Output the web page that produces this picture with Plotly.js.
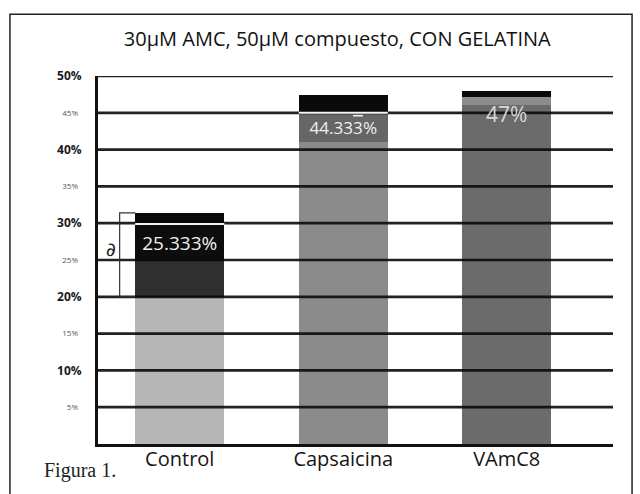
<!DOCTYPE html>
<html>
<head>
<meta charset="utf-8">
<script src="https://cdn.plot.ly/plotly-3.0.1.min.js"></script>
<style>html,body{margin:0;padding:0;background:#fff;}#chart{width:640px;height:494px;}</style>
</head>
<body>
<div id="chart"></div>
<script>
// ---- data ----
const categories = ['Control', 'Capsaicina', 'VAmC8'];
const baseSeg  = [20.0, 41.0, 46.0];   // lower segment
const midSeg   = [4.8, 4.0, 1.1];      // second segment
const blackSeg = [5.1, 0.0, 0.0];      // third segment (Control only)
const topSeg   = [1.5, 2.4, 0.9];      // black cap
const baseColors = ['#b6b6b6', '#8b8b8b', '#6b6b6b'];
const midColors  = ['#2f2f2f', '#666666', '#8c8c8c'];
const baseText  = ['', '', '47%'];
const midText   = ['', '44.33<span style="text-decoration:overline">3</span>%', ''];
const blackText = ['25.333%', '', ''];
const gapAbove  = [true, true, false];
const majorTicks = [10, 20, 30, 40, 50];
const majorLabels = ['10%', '20%', '30%', '40%', '50%'];
const minorTicks = [5, 15, 25, 35, 45];
const minorLabels = ['5%', '15%', '25%', '35%', '45%'];
const titleText = '30µM AMC, 50µM compuesto, CON GELATINA';
const figLabel = 'Figura 1.';
const bracketSymbol = '\u2202';

const barWidth = 0.545;
const font = 'Open Sans, sans-serif';

const traces = [
  {type: 'bar', x: categories, y: baseSeg, width: barWidth,
   marker: {color: baseColors}, hoverinfo: 'skip'},
  {type: 'bar', x: categories, y: midSeg, width: barWidth,
   marker: {color: midColors}, text: midText, textposition: 'inside',
   insidetextanchor: 'middle', textfont: {family: font, size: 19, color: '#f0f0f0'},
   hoverinfo: 'skip'},
  {type: 'bar', x: categories, y: blackSeg, width: barWidth,
   marker: {color: '#0d0d0d'}, text: blackText, textposition: 'inside',
   insidetextanchor: 'middle', textfont: {family: font, size: 19, color: '#f0f0f0'},
   hoverinfo: 'skip'},
  {type: 'bar', x: categories, y: topSeg, width: barWidth,
   marker: {color: '#0a0a0a'}, hoverinfo: 'skip'}
];

const shapes = [];
// grid lines drawn over the bars
majorTicks.concat(minorTicks).forEach(v => {
  shapes.push({type: 'line', xref: 'paper', x0: 0, x1: 1, yref: 'y', y0: v, y1: v,
               line: {color: 'rgba(10,10,10,0.9)', width: 2.7}, layer: 'above'});
});
// white gaps between the black cap and the segment below
categories.forEach((c, i) => {
  if (!gapAbove[i]) return;
  const yb = baseSeg[i] + midSeg[i] + blackSeg[i];
  shapes.push({type: 'line', xref: 'x', x0: i - barWidth / 2, x1: i + barWidth / 2,
               yref: 'y', y0: yb, y1: yb, line: {color: '#f4f4f4', width: 2}, layer: 'above'});
});
// bracket beside Control
const ctrlBottom = baseSeg[0];
const ctrlTop = baseSeg[0] + midSeg[0] + blackSeg[0] + topSeg[0];
const bx = -barWidth / 2 - 0.095;
shapes.push({type: 'path', xref: 'x', yref: 'y',
  path: `M ${-barWidth/2} ${ctrlTop} L ${bx} ${ctrlTop} L ${bx} ${ctrlBottom} L ${-barWidth/2} ${ctrlBottom}`,
  line: {color: '#333', width: 1.2}, layer: 'above'});
// outer frame
shapes.push({type: 'rect', xref: 'paper', yref: 'paper', x0: -0.171, x1: 1.037, y0: -0.16, y1: 1.168,
  line: {color: '#222', width: 1.5}, layer: 'below'});

const annotations = [
  {xref: 'x', yref: 'y', x: bx - 0.05, y: baseSeg[0] + midSeg[0] + blackSeg[0] / 2 - 0.8,
   text: bracketSymbol, showarrow: false, font: {family: 'DejaVu Sans, sans-serif', size: 19, color: '#222'}},
  {xref: 'x', yref: 'y', x: categories[2], y: baseSeg[2] - 1.2, yanchor: 'middle',
   text: baseText[2], showarrow: false, font: {family: font, size: 21, color: '#d8d8d8'}},
  {xref: 'paper', yref: 'paper', x: -0.108, y: -0.072, xanchor: 'left', yanchor: 'middle',
   text: figLabel, showarrow: false, font: {family: 'Liberation Serif, serif', size: 20, color: '#222'}}
];

const layout = {
  width: 640, height: 494,
  margin: {l: 98, r: 27, t: 76, b: 50},
  paper_bgcolor: '#ffffff', plot_bgcolor: '#ffffff',
  barmode: 'stack', showlegend: false,
  title: {text: titleText, x: 0.527, xref: 'container', xanchor: 'center',
          y: 0.922, yref: 'container', yanchor: 'middle',
          font: {family: font, size: 20, color: '#111'}},
  xaxis: {type: 'category', range: [-0.5, 2.65], showgrid: false, zeroline: false,
          showline: true, linecolor: '#111', linewidth: 3, ticks: '',
          ticklabelstandoff: -5,
          tickfont: {family: font, size: 20, color: '#151515'}, fixedrange: true},
  yaxis: {range: [0, 50], tickvals: majorTicks, ticktext: majorLabels, showgrid: false,
          zeroline: false, showline: true, linecolor: '#111', linewidth: 3, ticks: '',
          ticklabelstandoff: 11,
          tickfont: {family: font, size: 12, color: '#1a1a1a', weight: 'bold'}, fixedrange: true},
  yaxis2: {overlaying: 'y', side: 'left', range: [0, 50], tickvals: minorTicks, ticktext: minorLabels,
           showgrid: false, zeroline: false, showline: false, ticks: '', ticklabelstandoff: 19,
           tickfont: {family: font, size: 8, color: '#555'}, fixedrange: true},
  shapes: shapes,
  annotations: annotations
};
// invisible trace that carries the second axis
traces.push({type: 'scatter', x: [categories[0]], y: [0], yaxis: 'y2', mode: 'markers',
             marker: {opacity: 0}, hoverinfo: 'skip'});

Plotly.newPlot('chart', traces, layout, {staticPlot: true});
</script>
</body>
</html>
